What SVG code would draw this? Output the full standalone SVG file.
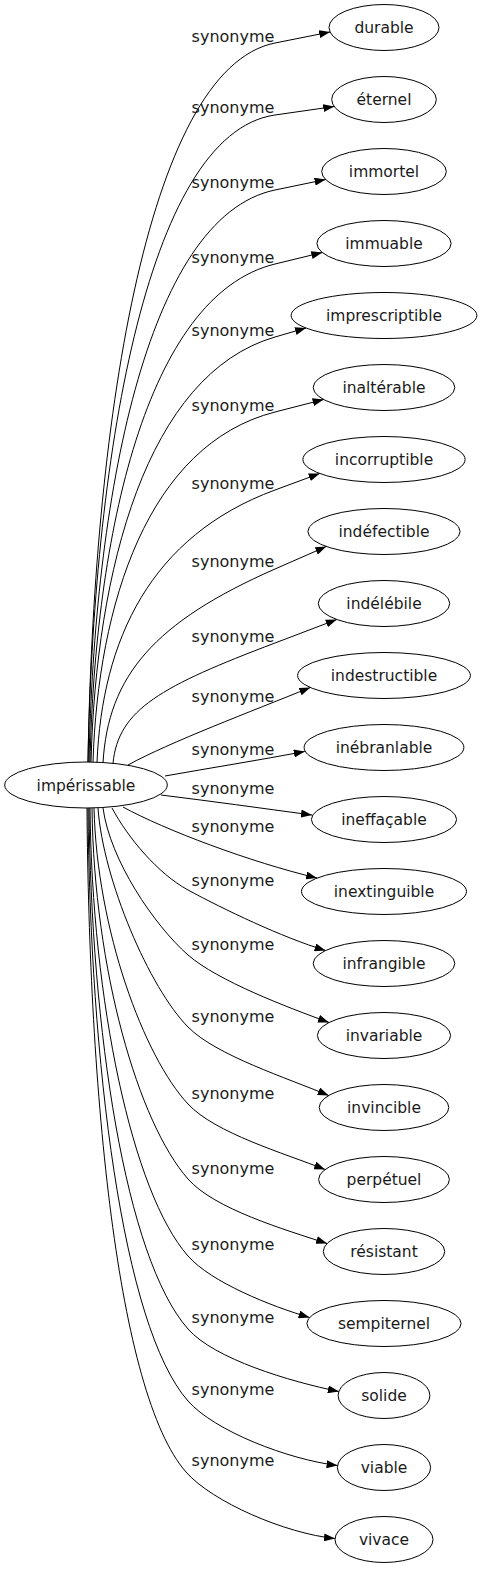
<svg xmlns="http://www.w3.org/2000/svg" width="482" height="1571" viewBox="0 0 482 1571">
<style>
.n ellipse{fill:none;stroke:#000;stroke-width:1}
.n text{font-family:"DejaVu Sans",sans-serif;font-size:15.5px;text-anchor:middle;fill:#1a1a1a}
.e path{fill:none;stroke:#000;stroke-width:1;marker-end:url(#ah)}
.e text{font-family:"DejaVu Sans",sans-serif;font-size:16px;text-anchor:middle;fill:#1a1a1a}
</style>
<defs>
<marker id="ah" viewBox="0 0 11 8" refX="11" refY="4" markerWidth="11" markerHeight="8" markerUnits="userSpaceOnUse" orient="auto"><path d="M0,0 L11,4 L0,8 z" fill="#000"/></marker>
</defs>
<rect width="482" height="1571" fill="#fff"/>
<g id="edges" class="e">
<path d="M88,762 C93,438.5 144,69.2 275,43 L330.1,32"/>
<path d="M88,762 C93,470.9 144,133.9 275,115 L334.2,106.5"/>
<path d="M89,762 C94,504.6 145,217 275,190 L325.6,179.5"/>
<path d="M90,762 C95,537.9 145.5,295.5 275,264 L322.3,252.5"/>
<path d="M91,762 C96,570.8 146.2,374.4 275,337 L306,328"/>
<path d="M93,762 C98,604.5 147.6,444.7 275,412 L323.6,399.5"/>
<path d="M97,762.5 C102,639.9 150.4,536 275,490 L319.7,473.5"/>
<path d="M103,763 C108,675.7 154.6,621.9 275,569 L326.3,546.5"/>
<path d="M113,763.5 C118,709.3 161.6,686 275,643 L336.8,619.5"/>
<path d="M128,765 C170,742 250,712 310.3,687.5"/>
<path d="M165,776 C210,768 260,760 304.8,751.5"/>
<path d="M161,795 C210,801 260,808 312,815"/>
<path d="M123,807 C165,830 250,862 317,878"/>
<path d="M112,808 C128,838 158,873.6 188,890 C223,909 282.5,937.6 325.6,950.5"/>
<path d="M103,808 C110,860 154,925 188,955 C218,981 286.7,1007 329,1022.5"/>
<path d="M98,808 C103,880 149.5,988 188,1027 C216,1055.4 287.3,1078 328.7,1095.5"/>
<path d="M94,808 C97,930 143.8,1056.5 188,1104 C215.2,1133.2 283.3,1152.9 325.1,1169.5"/>
<path d="M92,808 C94,970 138.5,1122.8 188,1179 C214.4,1209 284.4,1229.5 327.1,1243.5"/>
<path d="M90,808 C92,1000 131.9,1192.3 188,1256 C211.1,1282.3 271.2,1306.3 309.6,1317.5"/>
<path d="M89,808 C91,1030 125.3,1257.8 188,1329 C214.4,1359 289.8,1381.5 338.8,1391.5"/>
<path d="M88,808 C90,1060 122,1326 188,1401 C214.4,1431 288.1,1459.5 337.6,1465.5"/>
<path d="M87,808 C89,1090 116.7,1393 186,1472 C212.4,1502 285.3,1533.5 335,1538.5"/>
<text x="233" y="42">synonyme</text>
<text x="233" y="113">synonyme</text>
<text x="233" y="188">synonyme</text>
<text x="233" y="263">synonyme</text>
<text x="233" y="336">synonyme</text>
<text x="233" y="411">synonyme</text>
<text x="233" y="489">synonyme</text>
<text x="233" y="567">synonyme</text>
<text x="233" y="642">synonyme</text>
<text x="233" y="702">synonyme</text>
<text x="233" y="755">synonyme</text>
<text x="233" y="794">synonyme</text>
<text x="233" y="832">synonyme</text>
<text x="233" y="886">synonyme</text>
<text x="233" y="950">synonyme</text>
<text x="233" y="1022">synonyme</text>
<text x="233" y="1099">synonyme</text>
<text x="233" y="1174">synonyme</text>
<text x="233" y="1250">synonyme</text>
<text x="233" y="1323">synonyme</text>
<text x="233" y="1395">synonyme</text>
<text x="233" y="1466">synonyme</text>
</g>
<g id="n-imperissable" class="n"><ellipse cx="86" cy="785" rx="81.3" ry="23"/><text x="86" y="790.5">impérissable</text></g>
<g id="n-durable" class="n"><ellipse cx="384" cy="27.5" rx="55" ry="23"/><text x="384" y="33">durable</text></g>
<g id="n-eternel" class="n"><ellipse cx="384" cy="99.5" rx="52.3" ry="23"/><text x="384" y="105">éternel</text></g>
<g id="n-immortel" class="n"><ellipse cx="384" cy="171.5" rx="62.3" ry="23"/><text x="384" y="177">immortel</text></g>
<g id="n-immuable" class="n"><ellipse cx="384" cy="243.5" rx="67.1" ry="23"/><text x="384" y="249">immuable</text></g>
<g id="n-imprescriptible" class="n"><ellipse cx="384" cy="315.5" rx="92.9" ry="23"/><text x="384" y="321">imprescriptible</text></g>
<g id="n-inalterable" class="n"><ellipse cx="384" cy="387.5" rx="70.8" ry="23"/><text x="384" y="393">inaltérable</text></g>
<g id="n-incorruptible" class="n"><ellipse cx="384" cy="459.5" rx="81.1" ry="23"/><text x="384" y="465">incorruptible</text></g>
<g id="n-indefectible" class="n"><ellipse cx="384" cy="531.5" rx="76.1" ry="23"/><text x="384" y="537">indéfectible</text></g>
<g id="n-indelebile" class="n"><ellipse cx="384" cy="603.5" rx="65.7" ry="23"/><text x="384" y="609">indélébile</text></g>
<g id="n-indestructible" class="n"><ellipse cx="384" cy="675.5" rx="86.4" ry="23"/><text x="384" y="681">indestructible</text></g>
<g id="n-inebranlable" class="n"><ellipse cx="384" cy="747.5" rx="79.9" ry="23"/><text x="384" y="753">inébranlable</text></g>
<g id="n-ineffacable" class="n"><ellipse cx="384" cy="819.5" rx="72.6" ry="23"/><text x="384" y="825">ineffaçable</text></g>
<g id="n-inextinguible" class="n"><ellipse cx="384" cy="891.5" rx="82.5" ry="23"/><text x="384" y="897">inextinguible</text></g>
<g id="n-infrangible" class="n"><ellipse cx="384" cy="963.5" rx="70.8" ry="23"/><text x="384" y="969">infrangible</text></g>
<g id="n-invariable" class="n"><ellipse cx="384" cy="1035.5" rx="66.6" ry="23"/><text x="384" y="1041">invariable</text></g>
<g id="n-invincible" class="n"><ellipse cx="384" cy="1107.5" rx="64.8" ry="23"/><text x="384" y="1113">invincible</text></g>
<g id="n-perpetuel" class="n"><ellipse cx="384" cy="1179.5" rx="65.4" ry="23"/><text x="384" y="1185">perpétuel</text></g>
<g id="n-resistant" class="n"><ellipse cx="384" cy="1251.5" rx="60.7" ry="23"/><text x="384" y="1257">résistant</text></g>
<g id="n-sempiternel" class="n"><ellipse cx="384" cy="1323.5" rx="77.1" ry="23"/><text x="384" y="1329">sempiternel</text></g>
<g id="n-solide" class="n"><ellipse cx="384" cy="1395.5" rx="45.9" ry="23"/><text x="384" y="1401">solide</text></g>
<g id="n-viable" class="n"><ellipse cx="384" cy="1467.5" rx="46.6" ry="23"/><text x="384" y="1473">viable</text></g>
<g id="n-vivace" class="n"><ellipse cx="384" cy="1539.5" rx="49" ry="23"/><text x="384" y="1545">vivace</text></g>
</svg>
